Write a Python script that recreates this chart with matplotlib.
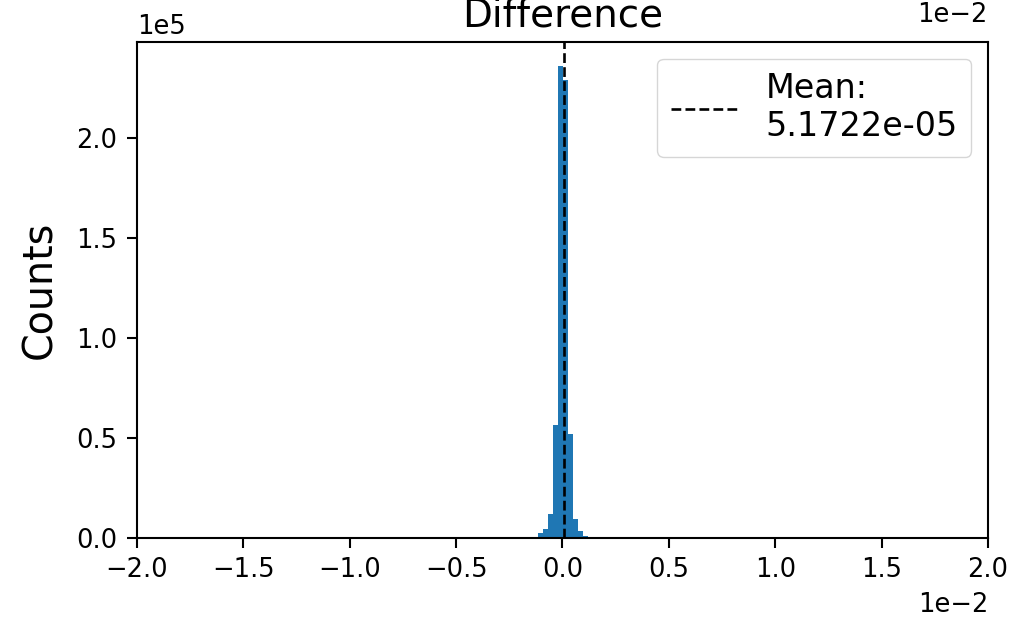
import matplotlib
matplotlib.use("Agg")
import matplotlib.pyplot as plt
import numpy as np

# histogram of the differences (bin edges and counts)
bin_width = 0.000235
center_edge = 0.00004
counts = [500, 2500, 4300, 11800, 56500, 236000, 229000, 52000, 9500, 3500, 1200, 400]
edges = center_edge + bin_width * (np.arange(len(counts) + 1) - len(counts) // 2)
mean_diff = 5.1722e-05

fig = plt.figure(figsize=(10.23, 6.23), dpi=100)
ax = fig.add_axes([0.1339, 0.1364, 0.8319, 0.7962])

ax.bar(edges[:-1], counts, width=np.diff(edges), align="edge", color="#1f77b4")
ax.axvline(mean_diff, color="k", linestyle="--", linewidth=1.9,
           label=f"Mean:\n{mean_diff:.4e}")

ax.set_xlim(-0.02, 0.02)
ax.ticklabel_format(axis="both", style="sci", scilimits=(0, 0))
ax.tick_params(labelsize=18.5, width=1.5, length=7, pad=7)
ax.xaxis.get_offset_text().set_fontsize(18.5)
ax.yaxis.get_offset_text().set_fontsize(18.5)
ax.yaxis.OFFSETTEXTPAD = 6
ax.xaxis.OFFSETTEXTPAD = 6
for s in ax.spines.values():
    s.set_linewidth(1.5)

ax.set_ylabel("Counts", fontsize=28.5, labelpad=11.5)
ax.set_title("Difference", fontsize=28, pad=11)
fig.text(0.965, 1 - 22 / 623, "1e\u22122", fontsize=18.5, ha="right", va="baseline")

ax.legend(loc="upper right", fontsize=24, handlelength=2.05)

fig.savefig("out.png", dpi=100)
